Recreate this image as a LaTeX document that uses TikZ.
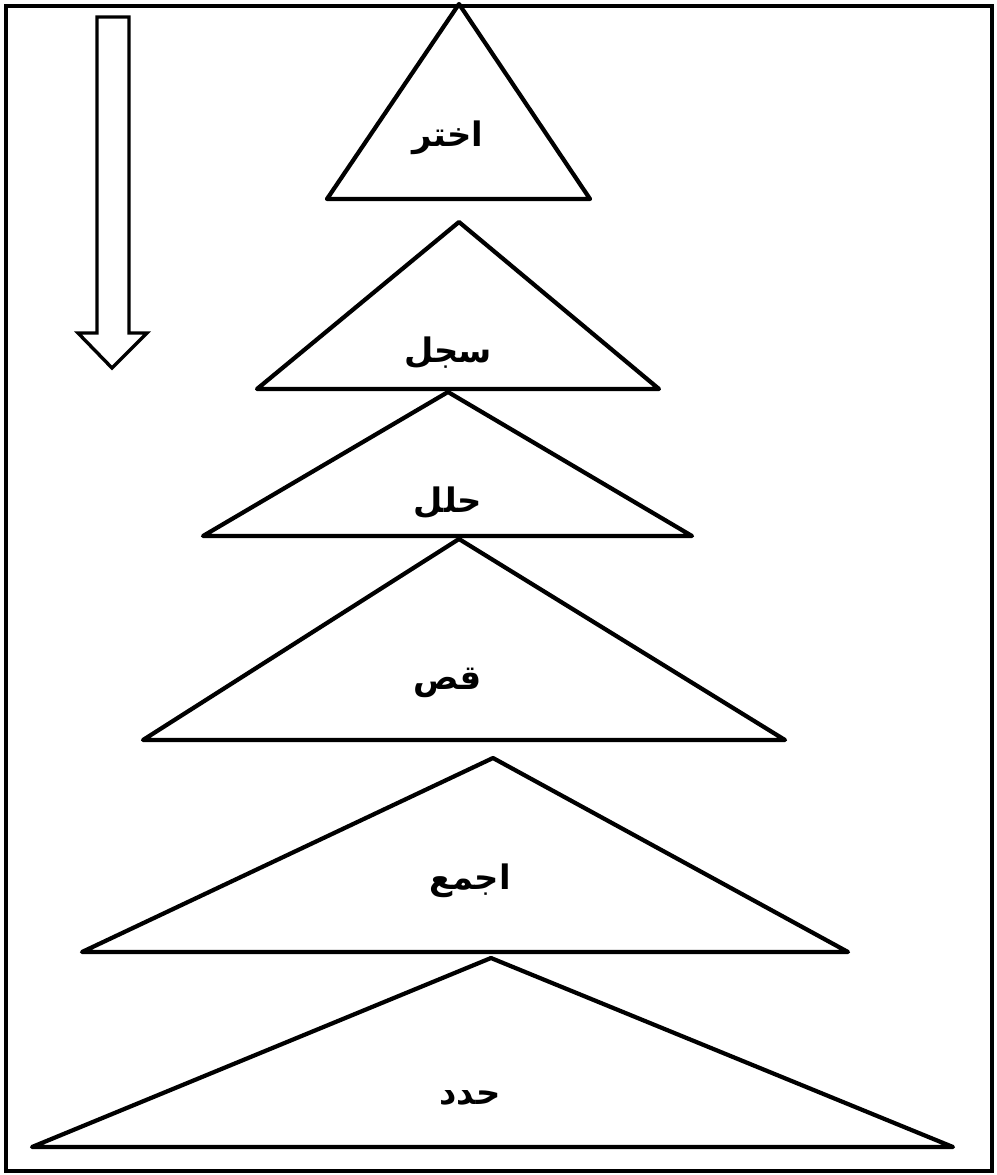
\documentclass[tikz,border=0pt]{standalone}
\usepackage{fontspec}
\newfontfamily\arabicfont[Script=Arabic]{DejaVu Sans}
\TeXXeTstate=1
\usetikzlibrary{positioning}
\tikzset{
    frame/.style={draw=black, line width=2.3pt},
    layer/.style={draw=black, line width=3pt, line join=round},
    flowarrow/.style={draw=black, fill=white, line width=2.4pt, line join=miter},
    steplbl/.style={font=\arabicfont\bfseries\fontsize{24}{28}\selectfont, inner sep=0pt}
}
\begin{document}
\begin{tikzpicture}[x=0.025cm, y=-0.025cm]
    \useasboundingbox (0,0) rectangle (997,1175);
    \draw[frame] (6,6) rectangle (992,1171);
    % down arrow
    \draw[flowarrow] (97,17) -- (129,17) -- (129,333) -- (147,333) -- (112,368)
      -- (78,333) -- (97,333) -- cycle;
    % layers, top to bottom
    \draw[layer] (459,4) -- (590,199) -- (327,199) -- cycle;
    \node[steplbl] (choose) at (448,138) {\beginR اختر\endR};
    \draw[layer] (459,222) -- (659,389) -- (257,389) -- cycle;
    \node[steplbl] (record) at (448,353) {\beginR سجل\endR};
    \draw[layer] (448,392) -- (692,536) -- (203,536) -- cycle;
    \node[steplbl] (analyse) at (448,503) {\beginR حلل\endR};
    \draw[layer] (459,539) -- (785,740) -- (143,740) -- cycle;
    \node[steplbl] (tell) at (448,683) {\beginR قص\endR};
    \draw[layer] (493,758) -- (848,952) -- (82,952) -- cycle;
    \node[steplbl] (gather) at (470,881) {\beginR اجمع\endR};
    \draw[layer] (491,958) -- (953,1147) -- (32,1147) -- cycle;
    \node[steplbl] (define) at (470,1098) {\beginR حدد\endR};
\end{tikzpicture}
\end{document}
